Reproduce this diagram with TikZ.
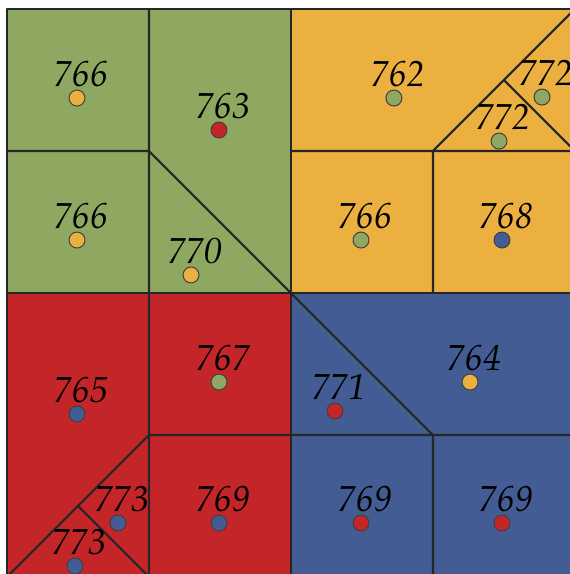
\documentclass[tikz,border=0pt]{standalone}
\usepackage[T1]{fontenc}
\usepackage{mathpazo}
\usepackage{tikz}
\usetikzlibrary{positioning}

\definecolor{cgreen}{RGB}{143,168,97}
\definecolor{cyellow}{RGB}{235,176,64}
\definecolor{cred}{RGB}{196,37,40}
\definecolor{cblue}{RGB}{67,92,148}

\begin{document}
\begin{tikzpicture}[
    x=2cm, y=-2cm, line join=round,
    edge/.style={draw=black!85, line width=0.85pt},
    site/.style={circle, draw=black!75, line width=0.4pt, minimum size=0.225cm, inner sep=0pt},
    num/.style={font=\fontsize{14.5}{16}\selectfont\itshape, inner sep=0pt, above=1pt of #1, xshift=1.5pt}
]
    \useasboundingbox (-0.0493,-0.0634) rectangle (3.965,3.979);
    \clip (-0.0493,-0.0634) rectangle (3.965,3.979);

    % Quadranten
    \fill[cgreen]  (0,0) rectangle (2,2);
    \fill[cyellow] (2,0) rectangle (4,2);
    \fill[cred]    (0,2) rectangle (2,4);
    \fill[cblue]   (2,2) rectangle (4,4);

    % Zellkanten
    \draw[edge] (0,0) rectangle (4,4);
    \draw[edge] (2,0) -- (2,4);
    \draw[edge] (0,2) -- (4,2);
    \draw[edge] (0,1) -- (1,1) (1,0) -- (1,2) (1,1) -- (2,2);
    \draw[edge] (2,1) -- (4,1) (3,1) -- (3,2) (3,1) -- (4,0) (3.5,0.5) -- (4,1);
    \draw[edge] (1,2) -- (1,4) (1,3) -- (2,3) (1,3) -- (0,4) (0.5,3.5) -- (1,4);
    \draw[edge] (2,2) -- (3,3) (2,3) -- (4,3) (3,3) -- (3,4);

    % gruen
    \node[site, fill=cyellow] (d1) at (0.493,0.627) {};
    \node[num=d1] (l1) {766};
    \node[site, fill=cyellow] (d2) at (0.493,1.627) {};
    \node[num=d2] (l2) {766};
    \node[site, fill=cred] (d3) at (1.493,0.852) {};
    \node[num=d3] (l3) {763};
    \node[site, fill=cyellow] (d4) at (1.296,1.873) {};
    \node[num=d4] (l4) {770};

    % gelb
    \node[site, fill=cgreen] (d5) at (2.725,0.627) {};
    \node[num=d5] (l5) {762};
    \node[site, fill=cgreen] (d6) at (3.768,0.620) {};
    \node[num=d6] (l6) {772};
    \node[site, fill=cgreen] (d7) at (3.465,0.930) {};
    \node[num=d7] (l7) {772};
    \node[site, fill=cgreen] (d8) at (2.493,1.627) {};
    \node[num=d8] (l8) {766};
    \node[site, fill=cblue] (d9) at (3.486,1.627) {};
    \node[num=d9] (l9) {768};

    % rot
    \node[site, fill=cblue] (d10) at (0.493,2.852) {};
    \node[num=d10] (l10) {765};
    \node[site, fill=cgreen] (d11) at (1.493,2.627) {};
    \node[num=d11] (l11) {767};
    \node[site, fill=cblue] (d12) at (0.782,3.620) {};
    \node[num=d12] (l12) {773};
    \node[site, fill=cblue] (d13) at (0.479,3.923) {};
    \node[num=d13] (l13) {773};
    \node[site, fill=cblue] (d14) at (1.493,3.620) {};
    \node[num=d14] (l14) {769};

    % blau
    \node[site, fill=cred] (d15) at (2.310,2.831) {};
    \node[num=d15] (l15) {771};
    \node[site, fill=cyellow] (d16) at (3.261,2.627) {};
    \node[num=d16] (l16) {764};
    \node[site, fill=cred] (d17) at (2.493,3.620) {};
    \node[num=d17] (l17) {769};
    \node[site, fill=cred] (d18) at (3.486,3.620) {};
    \node[num=d18] (l18) {769};
\end{tikzpicture}
\end{document}
